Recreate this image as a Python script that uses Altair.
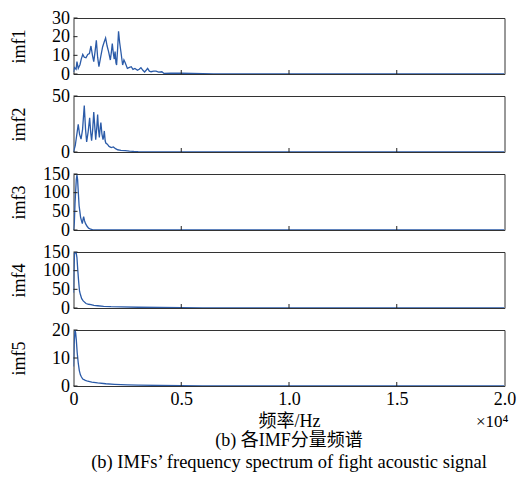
import altair as alt
import pandas as pd

# ---- data (frequency in units of 10^4 Hz) ----
imf1_f = [0, 0.005, 0.012, 0.016, 0.022, 0.03, 0.036, 0.043, 0.05, 0.058,
          0.066, 0.074, 0.081, 0.088, 0.094, 0.1, 0.106, 0.112, 0.118, 0.126,
          0.135, 0.142, 0.149, 0.156, 0.163, 0.171, 0.176, 0.18, 0.185, 0.189,
          0.193, 0.197, 0.2, 0.205, 0.209, 0.214, 0.22, 0.228, 0.234, 0.24,
          0.25, 0.26, 0.268, 0.276, 0.285, 0.297, 0.305, 0.313, 0.322, 0.33,
          0.337, 0.344, 0.352, 0.36, 0.372, 0.383, 0.395, 0.41, 0.42, 0.45,
          0.5, 0.55, 0.6, 0.65, 0.7, 2.0]
imf1_a = [1, 3.4, 2.5, 6.6, 3, 5, 8, 10.5, 9, 8.7,
          10.5, 11, 15, 10, 6.6, 12, 18, 9, 3.9, 9,
          14.5, 17, 19.3, 15, 11.9, 7.5, 12, 16.3, 11, 8,
          12, 6, 4.8, 14, 22.9, 17, 11.9, 4.8, 7.5, 6,
          3, 3.5, 3.9, 2.5, 3, 2, 2.5, 3.4, 2, 1.1,
          2, 3, 1.5, 1.2, 1.5, 1.5, 1.0, 1.2, 0.3, 0.5,
          0.4, 0.3, 0.2, 0.1, 0, 0]

imf2_f = [0, 0.008, 0.015, 0.022, 0.028, 0.035, 0.042, 0.05, 0.056, 0.061,
          0.068, 0.075, 0.08, 0.084, 0.089, 0.094, 0.099, 0.103, 0.108, 0.112,
          0.116, 0.12, 0.124, 0.127, 0.132, 0.137, 0.14, 0.143, 0.147, 0.15,
          0.157, 0.165, 0.175, 0.185, 0.195, 0.205, 0.22, 0.24, 0.26, 0.28,
          0.3, 0.35, 0.4, 2.0]
imf2_a = [0, 5.6, 15, 24.7, 16, 11.5, 20, 41.4, 20, 9,
          18, 30.6, 17, 10, 20, 35.6, 22, 11, 22, 33.5,
          20, 13, 22, 26.2, 16, 11, 14, 18.8, 10, 8,
          7, 5, 4, 4.5, 3, 2, 1.5, 1.2, 0.8, 0.5,
          0.3, 0.2, 0, 0]

imf3_f = [0, 0.004, 0.007, 0.01, 0.013, 0.016, 0.019, 0.022, 0.026, 0.029,
          0.033, 0.037, 0.041, 0.044, 0.047, 0.051, 0.056, 0.063, 0.07, 0.08,
          0.09, 0.12, 2.0]
imf3_a = [0, 20, 70, 104, 135, 148, 135, 104, 65, 52,
          34, 25, 17, 28, 36, 25, 17, 10, 5, 2,
          0.5, 0, 0]

imf4_f = [0, 0.002, 0.005, 0.008, 0.012, 0.016, 0.02, 0.024, 0.028, 0.032,
          0.038, 0.045, 0.058, 0.07, 0.081, 0.095, 0.112, 0.14, 0.174, 0.22,
          0.3, 0.4, 0.5, 0.6, 0.7, 2.0]
imf4_a = [41, 100, 150, 148, 150, 135, 100, 70, 45, 36,
          25, 19, 12, 10, 9, 7, 6, 4.5, 3.5, 2.8,
          2, 1.5, 1, 0.6, 0.3, 0]

imf5_f = [0, 0.003, 0.007, 0.01, 0.013, 0.017, 0.022, 0.027, 0.032, 0.037,
          0.043, 0.055, 0.066, 0.085, 0.112, 0.15, 0.19, 0.25, 0.3, 0.4,
          0.5, 0.6, 2.0]
imf5_a = [7, 15, 20, 19, 16.5, 12, 8.2, 5.5, 4, 3.2,
          2.5, 2, 1.7, 1.4, 1.1, 0.8, 0.6, 0.4, 0.3, 0.2,
          0.1, 0.05, 0]

panel_names = ["imf1", "imf2", "imf3", "imf4", "imf5"]
panel_ymax = [30, 50, 150, 150, 20]
panel_yticks = [[0, 10, 20, 30], [0, 50], [0, 50, 100, 150], [0, 50, 100, 150], [0, 10, 20]]
x_ticks = [0, 0.5, 1.0, 1.5, 2.0]
x_inner_ticks = [0.5, 1.0, 1.5]
x_title = "频率/Hz"
exp_label = "×10⁴"
caption_cn = "(b) 各IMF分量频谱"
caption_en = "(b) IMFs’ frequency spectrum of fight acoustic signal"

# ---- style ----
BLUE = "#2b5ba8"
FRAME = "#333333"
TICK = "#222222"
FONT = "Liberation Serif"
CJK = "Liberation Serif, Noto Sans CJK SC"
FS = 18
W, H = 431, 56


def make_panel(name, freqs, amps, ymax, yticks, last):
    df = pd.DataFrame({"f": freqs, "a": amps})
    xscale = alt.Scale(domain=[0, 2], nice=False, zero=False)
    yscale = alt.Scale(domain=[0, ymax], nice=False, zero=True)
    if last:
        xaxis = alt.Axis(values=x_ticks,
                         labelExpr="datum.value == 0 ? '0' : format(datum.value, '.1f')",
                         labelFlush=False, ticks=False, tickSize=0, domain=False, grid=False,
                         labelFont=FONT, labelFontSize=FS, labelColor="black", labelPadding=4,
                         title=x_title, titleFont=CJK, titleFontSize=18, titleFontWeight="normal",
                         titleColor="black", titlePadding=4)
    else:
        xaxis = None
    yaxis = alt.Axis(values=yticks, ticks=False, tickSize=0, domain=False, grid=False,
                     labelFont=FONT, labelFontSize=FS, labelColor="black", labelPadding=4,
                     labelOverlap=False, labelFlush=False,
                     title=name, titleFont=FONT, titleFontSize=FS, titleFontWeight="normal",
                     titleColor="black", titleAngle=270, titleX=-54.5, titleY=H / 2,
                     titleAlign="center", titleBaseline="middle")

    line = alt.Chart(df).mark_line(color=BLUE, strokeWidth=1.3, clip=True).encode(
        x=alt.X("f:Q", scale=xscale, axis=xaxis),
        y=alt.Y("a:Q", scale=yscale, axis=yaxis),
    )
    xt = alt.Chart(pd.DataFrame({"f": x_inner_ticks})).mark_rule(color=TICK, strokeWidth=1).encode(
        x=alt.X("f:Q", scale=xscale, axis=xaxis),
        y=alt.value(H), y2=alt.value(H - 4),
    )
    yt = alt.Chart(pd.DataFrame({"a": yticks})).mark_rule(color=TICK, strokeWidth=1).encode(
        y=alt.Y("a:Q", scale=yscale, axis=yaxis),
        x=alt.value(0), x2=alt.value(4),
    )
    layers = [line, xt, yt]
    if last:
        exp_txt = alt.Chart(pd.DataFrame({"t": [exp_label]})).mark_text(
            font=FONT, fontSize=17, align="right", baseline="middle", color="black"
        ).encode(text="t:N", x=alt.value(W + 4), y=alt.value(H + 36))
        cap1 = alt.Chart(pd.DataFrame({"t": [caption_cn]})).mark_text(
            font=CJK, fontSize=18, align="center", baseline="middle", color="black"
        ).encode(text="t:N", x=alt.value(W / 2), y=alt.value(H + 55))
        cap2 = alt.Chart(pd.DataFrame({"t": [caption_en]})).mark_text(
            font=FONT, fontSize=18.5, align="center", baseline="middle", color="black"
        ).encode(text="t:N", x=alt.value(W / 2), y=alt.value(H + 76))
        layers += [exp_txt, cap1, cap2]
    return alt.layer(*layers).properties(width=W, height=H)


data = [(imf1_f, imf1_a), (imf2_f, imf2_a), (imf3_f, imf3_a), (imf4_f, imf4_a), (imf5_f, imf5_a)]
panels = [make_panel(panel_names[i], data[i][0], data[i][1], panel_ymax[i], panel_yticks[i], i == 4)
          for i in range(5)]

chart = alt.vconcat(*panels, spacing=22, bounds="flush").properties(
    padding={"left": 1.5, "top": 0, "right": 0, "bottom": 0}
).configure_view(stroke=FRAME, strokeWidth=1)

chart.save("out.html", embed_options={"renderer": "svg", "actions": False})
